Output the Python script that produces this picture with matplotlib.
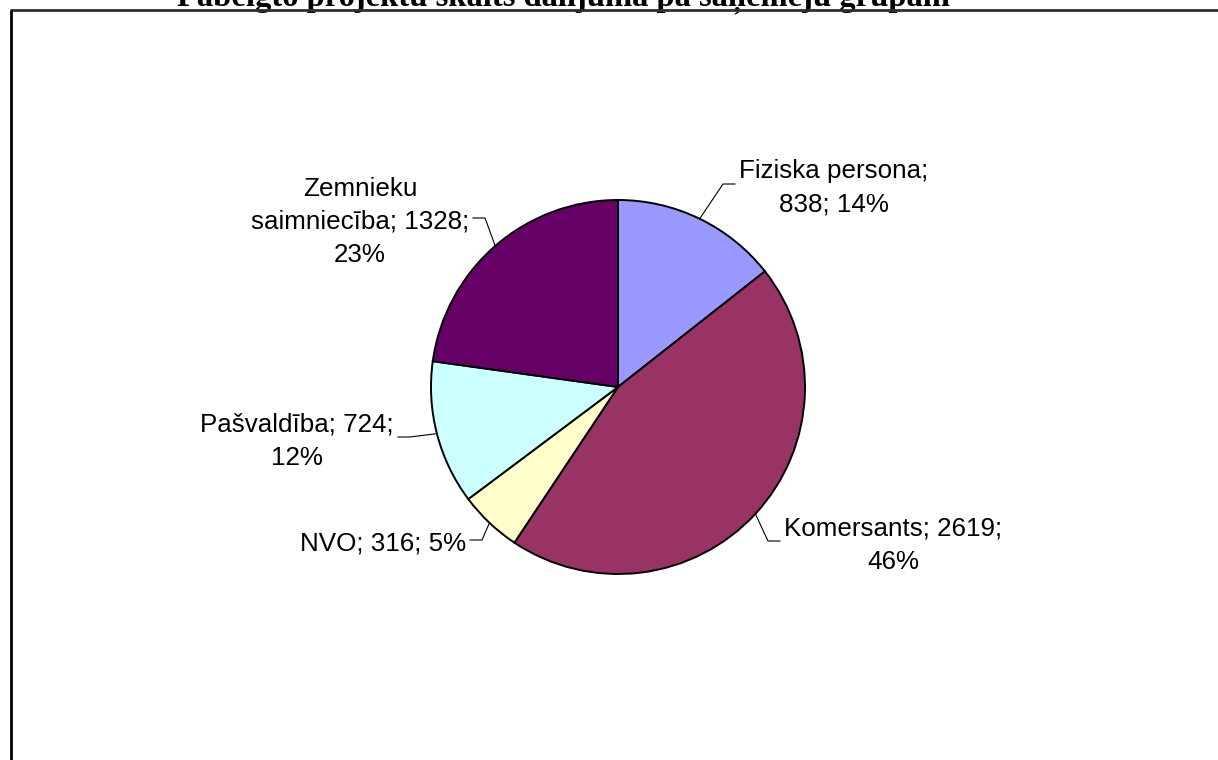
import matplotlib
matplotlib.use("Agg")
import matplotlib.pyplot as plt
import numpy as np

# ---- data ----
title = "Pabeigto projektu skaits dalījumā pa saņēmēju grupām"
categories = ["Fiziska persona", "Komersants", "NVO", "Pašvaldība", "Zemnieku saimniecība"]
values = [838, 2619, 316, 724, 1328]
percents = [14, 46, 5, 12, 23]
colors = ["#9999FF", "#993366", "#FFFFCC", "#CCFFFF", "#660066"]

# ---- layout (pixels, y measured downward from top) ----
W, H = 1218, 760
CX, CY, R = 618, 387, 187
label_templates = ["{c};\n{v}; {p}%", "{c}; {v};\n{p}%", "{c}; {v}; {p}%",
                   "{c}; {v};\n{p}%", "{c}; {v};\n{p}%"]
label_anchor = [(117, -203), (162, 154), (-148, 153), (-220, 50), (-145, -169)]

plt.rcParams['font.family'] = ['Liberation Sans', 'DejaVu Sans']

fig = plt.figure(figsize=(W / 100, H / 100), dpi=100)
ax = fig.add_axes([0, 0, 1, 1])

wedges, _ = ax.pie(values, colors=colors, startangle=90, counterclock=False,
                   center=(CX, H - CY), radius=R,
                   wedgeprops=dict(edgecolor='black', linewidth=1.4))
ax.set_xlim(0, W)
ax.set_ylim(0, H)
ax.set_aspect('auto')
ax.axis('off')

for i, w in enumerate(wedges):
    th = np.deg2rad((w.theta1 + w.theta2) / 2)
    ex, ey = CX + R * np.cos(th), (H - CY) + R * np.sin(th)
    dx, dy = label_anchor[i]
    endx, endy = CX + dx, (H - CY) - dy
    side = 1 if dx > 0 else -1
    elbx = endx - side * 12
    ax.plot([ex, elbx, endx], [ey, endy, endy], color='black', lw=0.8, zorder=5)
    c = categories[i]
    if i == 4:
        c = c.replace(" ", "\n", 1)
    txt = label_templates[i].format(c=c, v=values[i], p=percents[i])
    ax.text(endx + side * 4, endy - 4, txt, ha='left' if side > 0 else 'right',
            va='center', multialignment='center', fontsize=18.7,
            linespacing=1.5, color='black')

# title (cut off at the top edge, as in the source) and frame lines
ax.text(563, H - 6, title, ha='center', va='baseline',
        family=['Liberation Serif', 'DejaVu Serif'], fontweight='bold',
        fontsize=23.5, color='black', zorder=3)
ax.plot([10, W], [H - 9.5, H - 9.5], color='#303030', lw=2.0, zorder=6,
        solid_capstyle='butt')
ax.plot([11, 11], [H - 9.5, 0], color='black', lw=2.0, zorder=6,
        solid_capstyle='butt')

fig.savefig("out.png", dpi=100)
